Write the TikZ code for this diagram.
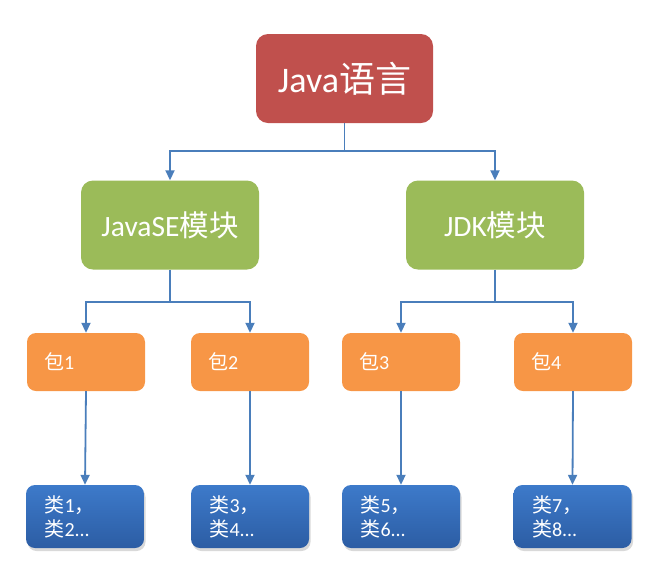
\documentclass[tikz,border=0pt]{standalone}
\usepackage{fontspec}
\setmainfont{Carlito}
\newfontfamily\cjk{Noto Sans CJK SC}
\usetikzlibrary{arrows.meta,shadows}
\definecolor{cred}{HTML}{C0504D}
\definecolor{cgreen}{HTML}{9BBB59}
\definecolor{corange}{HTML}{F79646}
\definecolor{cbluetop}{HTML}{3D7ACA}
\definecolor{cbluebot}{HTML}{2C5DA4}
\definecolor{carrow}{HTML}{4A7EBB}
\tikzset{
  topbox/.style={fill=cred, rounded corners=12pt, minimum width=177pt, minimum height=89pt, text=white, font=\fontsize{36}{40}\selectfont, inner sep=0pt},
  modbox/.style={fill=cgreen, rounded corners=12pt, minimum width=178pt, minimum height=89pt, text=white, font=\fontsize{29.5}{34}\selectfont, inner sep=0pt},
  pkgbox/.style={fill=corange, rounded corners=9pt, minimum height=58pt, text width=84pt, inner xsep=17pt, inner ysep=0pt, align=left, text=white, font=\fontsize{20}{24}\selectfont},
  clsbox/.style={top color=cbluetop, bottom color=cbluebot, rounded corners=9pt, minimum height=63pt, text width=81pt, inner xsep=18.5pt, inner ysep=0pt, align=left, text=white, font=\fontsize{20}{24}\selectfont,
    drop shadow={shadow xshift=1.5pt, shadow yshift=-3pt, opacity=0.3}},
  arr/.style={draw=carrow, line width=1.8pt, -{Triangle[length=10pt,width=9pt]}},
  ln/.style={draw=carrow, line width=1.8pt}
}
\begin{document}
\begin{tikzpicture}[x=1pt,y=-1pt]
\useasboundingbox (0,0) rectangle (647,574);
\node[topbox] (top) at (344.5,78.5) {Java{\cjk 语言}};
\node[modbox] (jse) at (170,225) {JavaSE{\cjk 模块}};
\node[modbox] (jdk) at (495,225) {JDK{\cjk 模块}};
\node[pkgbox] (p1) at (86,362) {{\cjk 包}1};
\node[pkgbox] (p2) at (250,362) {{\cjk 包}2};
\node[pkgbox] (p3) at (401,362) {{\cjk 包}3};
\node[pkgbox] (p4) at (573,362) {{\cjk 包}4};
\node[clsbox] (c1) at (85,516.5) {{\cjk 类}1{\cjk ，}\\{\cjk 类}2...};
\node[clsbox] (c2) at (250,516.5) {{\cjk 类}3{\cjk ，}\\{\cjk 类}4...};
\node[clsbox] (c3) at (401,516.5) {{\cjk 类}5{\cjk ，}\\{\cjk 类}6...};
\node[clsbox] (c4) at (572.5,516.5) {{\cjk 类}7{\cjk ，}\\{\cjk 类}8...};
\coordinate (b0) at (344.5,151);
\coordinate (b1) at (170,302);
\coordinate (b2) at (495,302);
\draw[ln] (top.south) -- (b0);
\draw[arr] (b0) -| (jse.north);
\draw[arr] (b0) -| (jdk.north);
\draw[ln] (jse.south) -- (b1);
\draw[arr] (b1) -| (p1.north);
\draw[arr] (b1) -| (p2.north);
\draw[ln] (jdk.south) -- (b2);
\draw[arr] (b2) -| (p3.north);
\draw[arr] (b2) -| (p4.north);
\draw[arr] (p1.south) -- (c1.north);
\draw[arr] (p2.south) -- (c2.north);
\draw[arr] (p3.south) -- (c3.north);
\draw[arr] (p4.south) -- (c4.north);
\end{tikzpicture}
\end{document}
